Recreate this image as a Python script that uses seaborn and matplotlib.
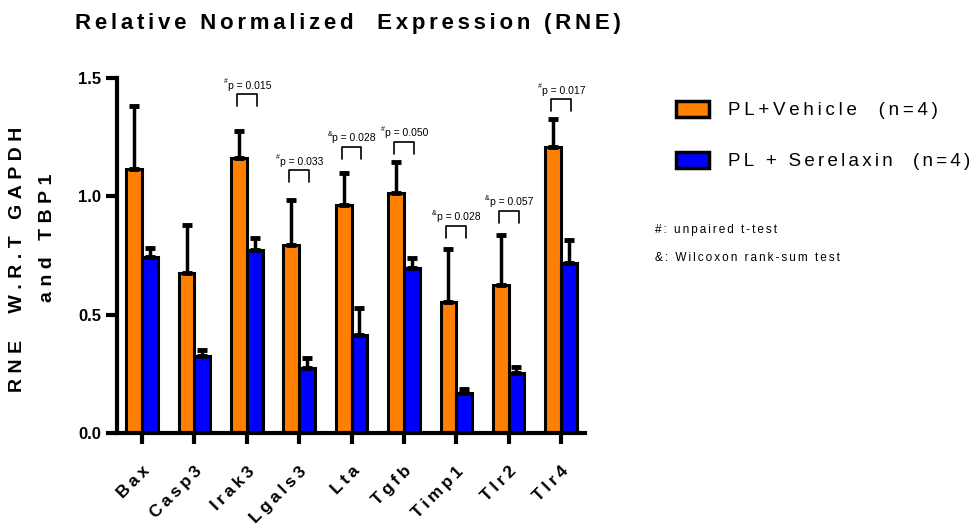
import numpy as np
import pandas as pd
import matplotlib
matplotlib.use("Agg")
import matplotlib.pyplot as plt
import seaborn as sns
from matplotlib.patches import Patch

genes = ['Bax', 'Casp3', 'Irak3', 'Lgals3', 'Lta', 'Tgfb', 'Timp1', 'Tlr2', 'Tlr4']
vehicle = [1.115, 0.676, 1.160, 0.794, 0.963, 1.014, 0.553, 0.625, 1.208]
vehicle_err = [0.265, 0.204, 0.115, 0.191, 0.135, 0.131, 0.224, 0.212, 0.119]
serelaxin = [0.744, 0.325, 0.773, 0.275, 0.414, 0.697, 0.169, 0.253, 0.718]
serelaxin_err = [0.036, 0.025, 0.051, 0.042, 0.114, 0.042, 0.017, 0.026, 0.097]
groups = ['PL+Vehicle  (n=4)', 'PL + Serelaxin  (n=4)']
colors = ['#FF8000', '#0000FF']

# significance annotations: gene index, test symbol, p label, bracket base
sig_idx = [2, 3, 4, 5, 6, 7, 8]
sig_sym = ['#', '#', '&', '#', '&', '&', '#']
sig_text = ['p = 0.015', 'p = 0.033', 'p = 0.028', 'p = 0.050',
            'p = 0.028', 'p = 0.057', 'p = 0.017']
sig_y = [1.381, 1.06, 1.158, 1.179, 0.824, 0.887, 1.36]

FONT = ['Liberation Sans', 'DejaVu Sans']

df = pd.DataFrame({
    'gene': genes * 2,
    'value': vehicle + serelaxin,
    'group': [groups[0]] * len(genes) + [groups[1]] * len(genes),
})

sns.set_style('white')
plt.rcParams['font.family'] = FONT
plt.rcParams['text.color'] = 'black'
plt.rcParams['xtick.color'] = 'black'
plt.rcParams['ytick.color'] = 'black'

fig = plt.figure(figsize=(9.77, 5.25), dpi=100)
renderer = fig.canvas.get_renderer()


def fit_sep(s, size, target, weight='normal'):
    # pick letter spacing so the text is about target px wide
    best, best_d = '', None
    for a in range(3):
        for b in range(3):
            for c in range(4):
                sep = ' ' * a + '\u2009' * b + '\u200a' * c
                t = fig.text(0, 0, sep.join(s), fontsize=size, fontweight=weight)
                w = t.get_window_extent(renderer).width
                t.remove()
                d = abs(w - target)
                if best_d is None or d < best_d:
                    best, best_d = sep, d
    return best


def tracked(s, size, target, weight='normal'):
    return fit_sep(s, size, target, weight).join(s)


ax = fig.add_axes([117 / 977, 1 - 433 / 525, (585 - 117) / 977, (433 - 78) / 525])

sns.barplot(data=df, x='gene', y='value', hue='group', palette=colors,
            saturation=1, edgecolor='black', linewidth=2.2, width=0.6,
            errorbar=None, legend=False, ax=ax)

# upper error bars
errs = vehicle_err + serelaxin_err
vals = vehicle + serelaxin
bars = [p for p in ax.patches if p.get_height() > 0][:len(vals)]
for p, v, e in zip(bars, vals, errs):
    cx = p.get_x() + p.get_width() / 2
    ax.errorbar(cx, v, yerr=[[0], [e]], fmt='none', ecolor='black',
                elinewidth=2.5, capsize=3.5, capthick=3.5, zorder=1)

# brackets
for i, sym, t, y in zip(sig_idx, sig_sym, sig_text, sig_y):
    x0, x1 = i - 0.19, i + 0.19
    ax.plot([x0, x0, x1, x1], [y, y + 0.051, y + 0.051, y], color='black', lw=1.2,
            clip_on=False)
    ax.annotate(t, (i, y + 0.066), xytext=(2, 0), textcoords='offset points',
                ha='center', va='bottom', fontsize=7.5)
    ax.annotate(sym, (i, y + 0.066), xytext=(-14, 4), textcoords='offset points',
                ha='right', va='bottom', fontsize=5)

ax.set_xlim(-0.48, 8.46)
ax.set_ylim(0, 1.5)
ax.set_yticks([0, 0.5, 1.0, 1.5])
ax.set_yticklabels(['0.0', '0.5', '1.0', '1.5'], fontsize=12, fontweight='bold')
ax.set_xticks(range(len(genes)))
ax.set_xticklabels(['\u2009'.join(g) for g in genes], rotation=45, ha='right',
                   rotation_mode='anchor', fontsize=12.5, fontweight='bold')
ax.set_xlabel('')
ax.set_ylabel('')
for s in ['top', 'right']:
    ax.spines[s].set_visible(False)
for s in ['left', 'bottom']:
    ax.spines[s].set_linewidth(3)
    ax.spines[s].set_color('black')
ax.tick_params(axis='both', direction='out', length=8, width=3, color='black',
               left=True, bottom=True)
ax.tick_params(axis='x', pad=14)

fig.text(75 / 977, 1 - 23 / 525,
         tracked('Relative Normalized  Expression (RNE)', 16, 550, 'bold'),
         fontsize=16, fontweight='bold', ha='left', va='center')
ysep = fit_sep('RNE  W.R.T GAPDH', 14, 272, 'bold')
fig.text(18 / 977, 1 - 259 / 525, ysep.join('RNE  W.R.T GAPDH'),
         rotation=90, fontsize=14, fontweight='bold', ha='center', va='center')
fig.text(48 / 977, 1 - 238 / 525, ysep.join('and TBP1'),
         rotation=90, fontsize=14, fontweight='bold', ha='center', va='center')

handles = [Patch(facecolor=c, edgecolor='black', linewidth=2.5) for c in colors]
labels = [tracked(groups[0], 13.5, 207), tracked(groups[1], 13.5, 244)]
fig.legend(handles, labels, loc='upper left',
           bbox_to_anchor=(676 / 977, 1 - 101 / 525), frameon=False, fontsize=13.5,
           handlelength=1.75, handleheight=0.9, handletextpad=1.0, labelspacing=1.75,
           borderpad=0, borderaxespad=0)

fig.text(655 / 977, 1 - 230 / 525, tracked('#: unpaired t-test', 8.5, 123),
         fontsize=8.5, ha='left', va='center')
fig.text(655 / 977, 1 - 258 / 525, tracked('&: Wilcoxon rank-sum test', 8.5, 185),
         fontsize=8.5, ha='left', va='center')

fig.savefig('out.png', dpi=100)
